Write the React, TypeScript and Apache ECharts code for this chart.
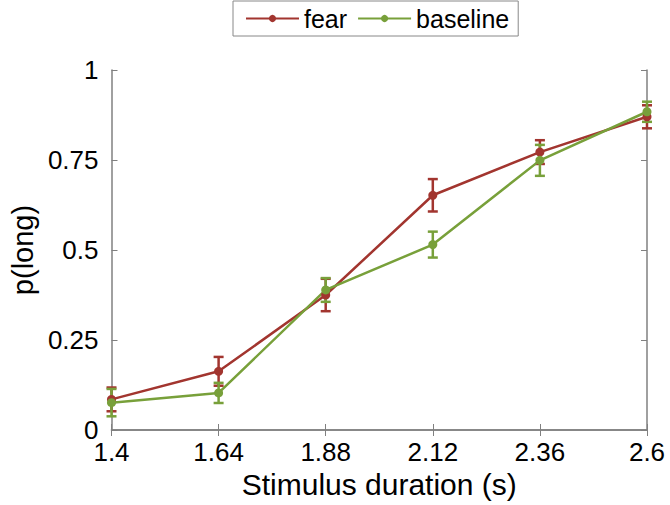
import React, { useEffect, useRef } from "react";
import * as echarts from "echarts";

const durations = ["1.4", "1.64", "1.88", "2.12", "2.36", "2.6"];
const fear = [0.085, 0.163, 0.375, 0.652, 0.772, 0.87];
const fearErr = [0.033, 0.04, 0.045, 0.045, 0.033, 0.032];
const baseline = [0.076, 0.103, 0.389, 0.515, 0.749, 0.884];
const baselineErr = [0.038, 0.028, 0.033, 0.036, 0.043, 0.028];

const FEAR_COLOR = "#a2352f";
const BASE_COLOR = "#78a03a";
const FONT = "'Liberation Sans', Arial, Helvetica, sans-serif";

function errorSeries(name: string, vals: number[], errs: number[], color: string) {
  return {
    type: "custom",
    name: name + "-err",
    xAxisIndex: 0,
    yAxisIndex: 0,
    z: 3,
    silent: true,
    data: vals.map((v, i) => [i, v - errs[i], v + errs[i]]),
    renderItem: (params: any, api: any) => {
      const lo = api.coord([api.value(0), api.value(1)]);
      const hi = api.coord([api.value(0), api.value(2)]);
      const hw = 5;
      const style = { stroke: color, lineWidth: 2.5 };
      return {
        type: "group",
        children: [
          { type: "line", shape: { x1: lo[0], y1: lo[1], x2: hi[0], y2: hi[1] }, style },
          { type: "line", shape: { x1: lo[0] - hw, y1: lo[1], x2: lo[0] + hw, y2: lo[1] }, style },
          { type: "line", shape: { x1: hi[0] - hw, y1: hi[1], x2: hi[0] + hw, y2: hi[1] }, style },
        ],
      };
    },
  };
}

export default function App() {
  const ref = useRef<HTMLDivElement>(null);
  useEffect(() => {
    if (!ref.current) return;
    const chart = echarts.init(ref.current, null, { renderer: "svg" });
    const axisLine = { show: true, lineStyle: { color: "#808080", width: 1.5 } };
    const axisTick = { show: true, inside: true, length: 6, lineStyle: { color: "#808080", width: 1 } };
    chart.setOption({
      animation: false,
      textStyle: { fontFamily: FONT },
      legend: {
        left: 233,
        top: 1,
        data: ["fear", "baseline"],
        itemWidth: 53,
        itemHeight: 9,
        itemGap: 10,
        padding: [5, 9, 5, 12],
        borderColor: "#888",
        borderWidth: 1,
        backgroundColor: "#fff",
        textStyle: { fontSize: 25, color: "#000", fontFamily: FONT, lineHeight: 25 },
      },
      grid: { left: 104, right: 23, top: 70, bottom: 75, containLabel: false },
      xAxis: [
        {
          type: "category",
          data: durations,
          boundaryGap: false,
          position: "bottom",
          axisLine,
          axisTick,
          splitLine: { show: false },
          axisLabel: { fontSize: 26, lineHeight: 18, color: "#000", margin: 13, fontFamily: FONT },
          name: "Stimulus duration (s)",
          nameLocation: "middle",
          nameGap: 33,
          nameTextStyle: { fontSize: 30, color: "#000", fontFamily: FONT },
        },
        {
          type: "category",
          data: durations,
          boundaryGap: false,
          position: "top",
          axisLine,
          axisTick,
          axisLabel: { show: false },
          splitLine: { show: false },
        },
      ],
      yAxis: [
        {
          type: "value",
          min: 0,
          max: 1,
          interval: 0.25,
          position: "left",
          axisLine,
          axisTick,
          splitLine: { show: false },
          axisLabel: { fontSize: 26, lineHeight: 18, color: "#000", margin: 13, fontFamily: FONT },
          name: "p(long)",
          nameLocation: "middle",
          nameGap: 68,
          nameRotate: 90,
          nameTextStyle: { fontSize: 29, color: "#000", fontFamily: FONT },
        },
        {
          type: "value",
          min: 0,
          max: 1,
          interval: 0.25,
          position: "right",
          axisLine,
          axisTick,
          axisLabel: { show: false },
          splitLine: { show: false },
        },
      ],
      series: [
        errorSeries("fear", fear, fearErr, FEAR_COLOR),
        errorSeries("baseline", baseline, baselineErr, BASE_COLOR),
        {
          type: "line",
          name: "fear",
          data: fear,
          xAxisIndex: 0,
          yAxisIndex: 0,
          symbol: "circle",
          symbolSize: 9,
          color: FEAR_COLOR,
          lineStyle: { width: 2.5, color: FEAR_COLOR },
          itemStyle: { color: FEAR_COLOR },
          z: 4,
        },
        {
          type: "line",
          name: "baseline",
          data: baseline,
          xAxisIndex: 0,
          yAxisIndex: 0,
          symbol: "circle",
          symbolSize: 9,
          color: BASE_COLOR,
          lineStyle: { width: 2.5, color: BASE_COLOR },
          itemStyle: { color: BASE_COLOR },
          z: 4,
        },
      ],
    });
    return () => chart.dispose();
  }, []);
  return (
    <div
      ref={ref}
      style={{ position: "absolute", left: 0, top: 0, width: 670, height: 505 }}
    />
  );
}
